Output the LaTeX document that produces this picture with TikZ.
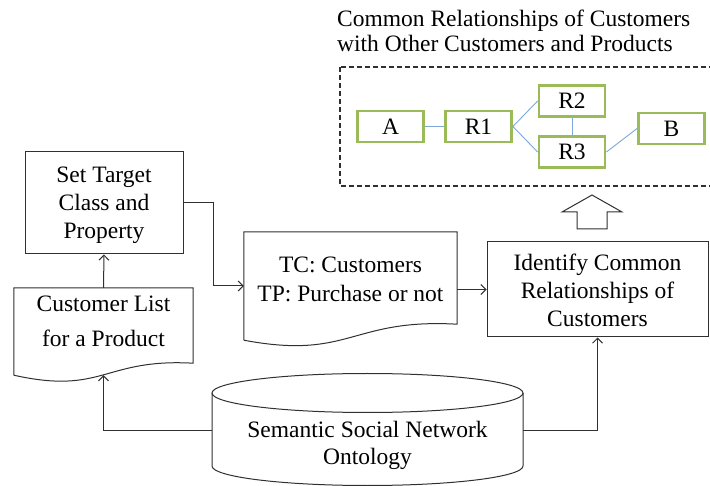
\documentclass[tikz,border=0pt]{standalone}
\usepackage{fontspec}
\setmainfont{Liberation Serif}
\usetikzlibrary{arrows.meta,calc}

\definecolor{relgreen}{HTML}{9BBB59}
\definecolor{relblue}{HTML}{7FA6D8}
\definecolor{ink}{HTML}{303030}

% multi-line text whose baseline is the first line
\newcommand\boxlines[1]{\begin{tabular}[t]{@{}c@{}}#1\end{tabular}}
\newcommand\leftlines[1]{\begin{tabular}[t]{@{}l@{}}#1\end{tabular}}

\begin{document}
\begin{tikzpicture}[x=1pt,y=-1pt,
  txt/.style={font=\fontsize{23.5}{28}\selectfont, inner sep=0pt, text=black},
  stepbox/.style={txt, draw=ink, line width=1pt, rectangle},
  docbody/.style={txt, rectangle},
  relbox/.style={txt, draw=relgreen, line width=2.8pt, minimum width=66pt, minimum height=31pt},
  arr/.style={draw=ink, line width=1pt, -{Straight Barb[length=5pt,width=10pt,line width=1pt]}},
  rel/.style={draw=relblue, line width=0.9pt},
]
\useasboundingbox (0,0) rectangle (710,486);

% title of the relationship panel
\node[txt, anchor=base west] (title) at (337,27)
  {\leftlines{Common Relationships of Customers\\[-3pt]with Other Customers and Products}};

% dashed panel
\draw[ink, line width=1.1pt, dash pattern=on 5pt off 3pt] (340,67) rectangle (716,186);

% relationship graph
\node[relbox] (A)  at (390.5,126.5) {A};
\node[relbox] (R1) at (478.5,126.5) {R1};
\node[relbox] (R2) at (572,101) {R2};
\node[relbox] (R3) at (572,152) {R3};
\node[relbox] (B)  at (671.5,128.5) {B};
\draw[rel] (A) -- (R1);
\draw[rel] (R1.east) -- (R2.west);
\draw[rel] (R1.east) -- (R3.west);
\draw[rel] (R2) -- (R3);
\draw[rel] (R3.east) -- (B.west);

% hollow block arrow
\draw[ink, line width=1pt, fill=white]
  (577,229) -- (577,212) -- (562,212) -- (592,195) -- (622,212) -- (607,212) -- (607,229) -- cycle;

% process boxes
\node[stepbox, minimum width=158pt, minimum height=102pt, text height=0pt, text depth=40pt]
  (st) at (104,203) {\boxlines{Set Target\\Class and\\Property}};
\node[stepbox, minimum width=221pt, minimum height=95pt, text height=0pt, text depth=37pt]
  (id) at (597.5,289.5) {\boxlines{Identify Common\\Relationships of\\Customers}};

% documents
\node[docbody, minimum width=179pt, minimum height=87pt, text height=0pt, text depth=39pt]
  (cl) at (103.5,331.5) {\boxlines{Customer List\\[7pt]for a Product}};
\draw[ink, line width=1pt]
  (cl.south west) -- (cl.north west) -- (cl.north east) -- ($(cl.south east)+(0,-12)$)
  .. controls ($(cl.south)+(0,-17)$) and ($(cl.south)+(0,20)$) .. (cl.south west);

\node[docbody, minimum width=213pt, minimum height=108pt, text height=0pt, text depth=26pt]
  (tc) at (350.5,286) {\boxlines{TC: Customers\\[1pt]TP: Purchase or not}};
\draw[ink, line width=1pt]
  (tc.south west) -- (tc.north west) -- (tc.north east) -- ($(tc.south east)+(0,-16)$)
  .. controls ($(tc.south)+(0,-22)$) and ($(tc.south)+(0,20)$) .. (tc.south west);

% ontology store
\node[docbody, minimum width=311pt, minimum height=70pt, text height=12pt, text depth=0pt]
  (ont) at (367.5,431) {\boxlines{Semantic Social Network\\Ontology}};
\draw[ink, line width=1pt]
  (212,393) -- (212,466) arc[start angle=180, end angle=0, x radius=155.5, y radius=19.5] -- (523,393);
\draw[ink, line width=1pt] (367.5,393) ellipse [x radius=155.5, y radius=19.5];

% flow connectors
\draw[arr] (cl.north) -- (st.south);
\draw[arr] (st.east) -- ++(30,0) |- (tc.west);
\draw[arr] (tc.east |- id.west) -- (id.west);
\draw[arr] (ont.east) -| (id.south);
\draw[arr] (ont.west) -| (cl.south);
\end{tikzpicture}
\end{document}
